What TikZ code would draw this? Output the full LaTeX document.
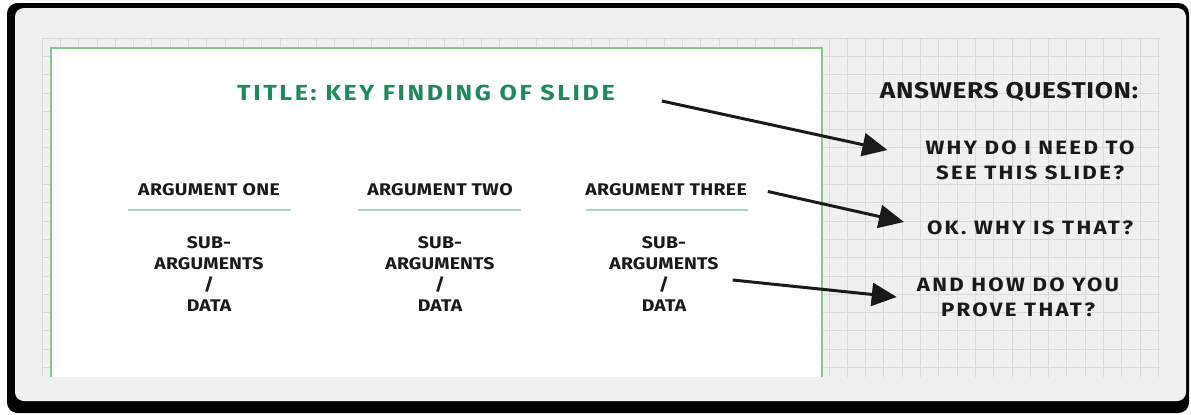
\documentclass[tikz,border=0pt]{standalone}
\usepackage{fontspec}
\setmainfont{Fira Sans}[FakeStretch=1.15]
\usetikzlibrary{arrows.meta, positioning}
\definecolor{titelgruen}{HTML}{1E8A5C}
\definecolor{randgruen}{HTML}{86C98F}
\definecolor{strichblau}{HTML}{A6D6CB}
\definecolor{tinte}{HTML}{1A1A1A}
\definecolor{papier}{HTML}{F0F0F0}
\definecolor{gitter}{HTML}{DADADA}

\begin{document}
\begin{tikzpicture}[
    x=0.02cm, y=-0.02cm,
    node distance = 4mm and 5mm,
    kopf/.style = {text=tinte, inner sep=1pt,
        font=\bfseries\fontsize{9.6}{11}\selectfont\addfontfeatures{LetterSpace=2}},
    unter/.style = {text=tinte, inner sep=1pt, align=center,
        font=\bfseries\fontsize{9.6}{11.9}\selectfont\addfontfeatures{LetterSpace=1}},
    frage/.style = {text=tinte, inner sep=1pt, align=center,
        font=\bfseries\fontsize{11}{14.2}\selectfont\addfontfeatures{LetterSpace=12}},
    linie/.style = {strichblau, line width=1.2pt},
    pil/.style = {tinte, line width=1.7pt, -{Triangle[length=5mm, width=4.6mm]}},
    ]
    \useasboundingbox (0,0) rectangle (1191,414);
    % frame and paper
    \fill[black, rounded corners=6pt] (7,3) rectangle (1189,413);
    \fill[papier, rounded corners=5pt] (15,8) rectangle (1186,401);
    \foreach \gx in {42,60.3,...,1160} \draw[gitter, line width=0.4pt] (\gx,38) -- (\gx,377);
    \foreach \gy in {38,56.3,...,377} \draw[gitter, line width=0.4pt] (42,\gy) -- (1160,\gy);
    % slide
    \fill[white] (51,48) rectangle (822,377);
    \draw[randgruen, line width=1.2pt] (51,377) -- (51,48) -- (822,48) -- (822,377);

    %nodes
    \node[text=titelgruen, inner sep=1pt,
        font=\bfseries\fontsize{12.4}{14}\selectfont\addfontfeatures{LetterSpace=12}] (title)
        at (426,93) {TITLE: KEY FINDING OF SLIDE};

    \node[kopf] (arg1) at (209,190) {ARGUMENT ONE};
    \node[kopf] (arg2) at (440,190) {ARGUMENT TWO};
    \node[kopf] (arg3) at (666,190) {ARGUMENT THREE};

    \node[unter] (sub1) at (209,274) {SUB-\\ARGUMENTS\\/\\DATA};
    \node[unter] (sub2) at (440,274) {SUB-\\ARGUMENTS\\/\\DATA};
    \node[unter] (sub3) at (664,274) {SUB-\\ARGUMENTS\\/\\DATA};

    \node[text=tinte, inner sep=1pt,
        font=\bfseries\fontsize{13}{15}\selectfont\addfontfeatures{LetterSpace=3}] (answers)
        at (1009,92) {ANSWERS QUESTION:};
    \node[frage] (q1) at (1030,160) {WHY DO I NEED TO\\SEE THIS SLIDE?};
    \node[frage] (q2) at (1030,228) {OK. WHY IS THAT?};
    \node[frage] (q3) at (1018,297) {AND HOW DO YOU\\PROVE THAT?};

    % underlines
    \draw[linie] (128,210) -- (291,210);
    \draw[linie] (358,210) -- (521,210);
    \draw[linie] (586,210) -- (748,210);

    % edges
    \draw[pil] ([xshift=9mm,yshift=-1.6mm]title.east) -- ([xshift=-7.2mm,yshift=2mm]q1.west);
    \draw[pil] ([xshift=3.8mm,yshift=-0.3mm]arg3.east) -- ([xshift=-4.2mm,yshift=1.2mm]q2.west);
    \draw[pil] ([xshift=2.4mm,yshift=-1.2mm]sub3.east) -- ([xshift=-3.6mm]q3.west);
\end{tikzpicture}
\end{document}
